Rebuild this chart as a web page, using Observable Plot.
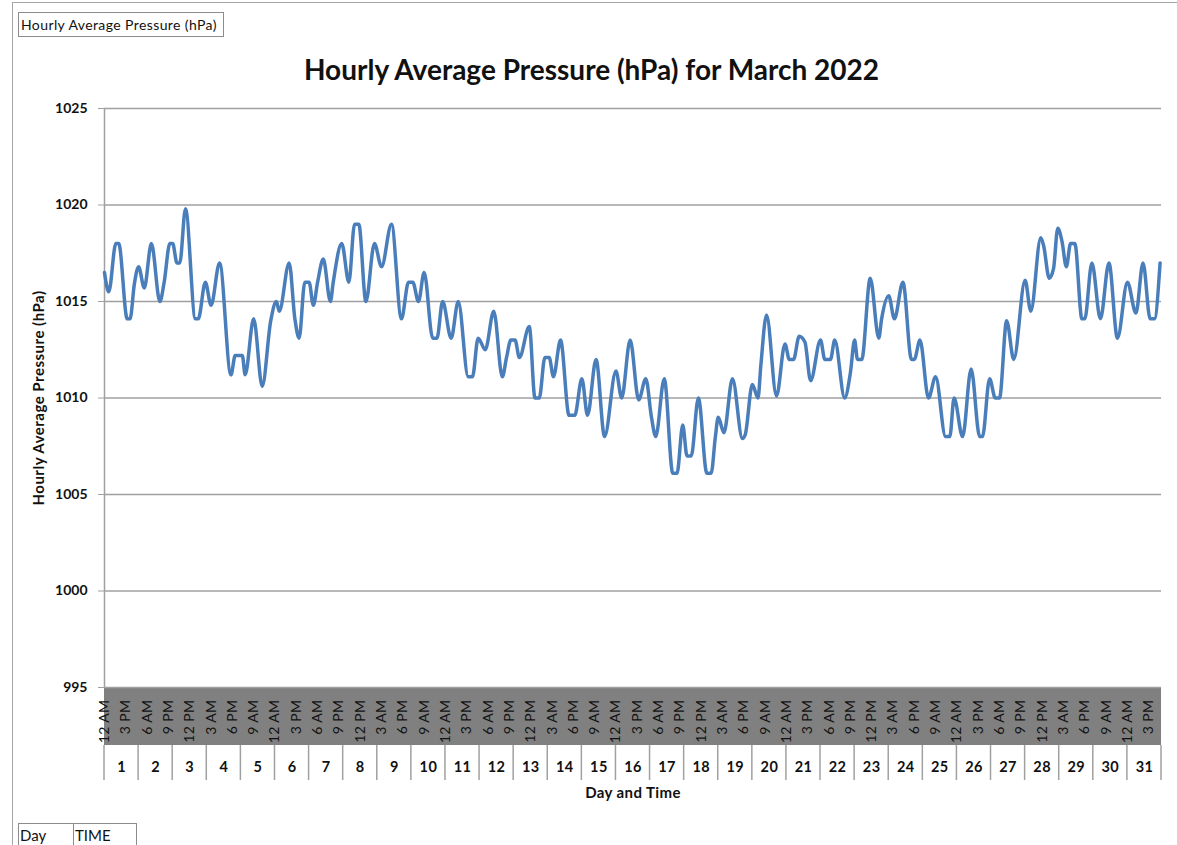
<!DOCTYPE html>
<html>
<head>
<meta charset="utf-8">
<script src="https://cdn.jsdelivr.net/npm/d3@7"></script>
<script src="https://cdn.jsdelivr.net/npm/@observablehq/plot@0.6"></script>
<style>
  body { margin: 0; background: #fff; }
  #wrap { position: relative; width: 1177px; height: 845px; overflow: hidden; background: #fff; font-family: Lato, "Open Sans", sans-serif; color: #111; }
  .abs { position: absolute; }
</style>
</head>
<body>
<div id="wrap">
  <div class="abs" style="left:12px;top:2px;width:1200px;height:900px;border:1px solid #a6a6a6;"></div>
  <div class="abs" style="left:18px;top:12px;width:202px;height:23px;border:1px solid #8c8c8c;font-size:14px;letter-spacing:0.4px;line-height:23px;padding-left:2px;white-space:nowrap;">Hourly Average Pressure (hPa)</div>
  <div id="chart" class="abs" style="left:0;top:0;"></div>
  <div class="abs" style="left:0;width:1183px;top:50px;text-align:center;font-size:28px;font-weight:700;line-height:38px;">Hourly Average Pressure (hPa) for March 2022</div>
  <div class="abs" style="left:38px;top:398px;width:300px;margin-left:-150px;text-align:center;font-size:15px;letter-spacing:0.5px;font-weight:700;line-height:18px;transform:translateY(-9px) rotate(-90deg);white-space:nowrap;">Hourly Average Pressure (hPa)</div>
  <div class="abs" style="left:483px;width:300px;top:783px;text-align:center;font-size:15px;letter-spacing:0.4px;font-weight:700;line-height:18px;">Day and Time</div>
  <div class="abs" style="left:18px;top:823px;width:117px;height:40px;border:1px solid #8c8c8c;"></div>
  <div class="abs" style="left:73px;top:823px;width:1px;height:40px;background:#8c8c8c;"></div>
  <div class="abs" style="left:20px;top:826px;font-size:15px;line-height:18px;">Day</div>
  <div class="abs" style="left:75px;top:826px;font-size:15px;line-height:18px;">TIME</div>
</div>
<script>
// Hour index within March 2022 (0 = 1 March 12 AM) and pressure read at the turning points of the curve
const hours = [0,3,8,10,16,18,21,24,28,33,39,42,46,48,51,53,57,64,66,71,75,81,89,92,97,99,105,111,117,121,123,
  130,134,137,141,144,147,150,154,159,161,167,172,176,179,184,190,195,202,209,214,217,221,225,231,234,238,244,
  249,256,259,263,268,274,280,283,286,289,292,299,303,306,310,313,316,321,327,331,336,340,346,352,360,364,
  370,376,381,385,388,394,400,403,407,410,413,418,424,427,430,432,436,442,449,451,456,460,462,466,473,479,
  482,485,489,493,497,504,507,511,514,521,525,528,530,533,539,545,547,552,556,562,568,570,574,580,585,592,
  595,598,604,610,616,618,623,627,630,635,640,648,652,659,661,665,668,671,674,677,680,683,688,690,695,701,
  707,713,720,726,731,736,739,743];
const pressure = [1016.5,1015.5,1018.0,1018.0,1014.1,1014.1,1015.9,1016.8,1015.7,1018.0,1015.0,1016.0,1018.0,1018.0,1017.0,1017.0,1019.8,1014.1,1014.1,1016.0,1014.8,1017.0,1011.2,1012.2,1012.2,1011.2,1014.1,1010.6,1014.0,1015.0,1014.5,
  1017.0,1014.1,1013.1,1016.0,1016.0,1014.8,1016.0,1017.2,1015.0,1016.0,1018.0,1016.0,1019.0,1019.0,1015.0,1018.0,1016.8,1019.0,1014.1,1016.0,1016.0,1015.0,1016.5,1013.1,1013.1,1015.0,1013.1,
  1015.0,1011.1,1011.1,1013.1,1012.5,1014.5,1011.1,1012.1,1013.0,1013.0,1012.1,1013.7,1010.0,1010.0,1012.1,1012.1,1011.1,1013.0,1009.1,1009.1,1011.0,1009.1,1012.0,1008.0,1011.4,1010.0,
  1013.0,1009.9,1011.0,1009.0,1008.0,1011.0,1006.1,1006.1,1008.6,1007.0,1007.0,1010.0,1006.1,1006.1,1008.0,1009.0,1008.2,1011.0,1007.9,1008.1,1010.7,1010.0,1011.7,1014.3,1010.1,1012.8,
  1012.0,1012.0,1013.2,1012.9,1010.9,1013.0,1012.0,1012.0,1013.0,1010.0,1011.3,1013.0,1012.0,1012.0,1016.2,1013.1,1014.1,1015.3,1014.1,1016.0,1012.0,1012.0,1013.0,1010.0,1011.1,1008.0,
  1008.0,1010.0,1008.0,1011.5,1008.0,1008.0,1011.0,1010.0,1010.0,1014.0,1012.0,1016.1,1014.5,1018.3,1017.9,1016.2,1016.7,1018.8,1018.1,1016.8,1018.0,1018.0,1014.1,1014.1,1017.0,1014.1,
  1017.0,1013.1,1016.0,1014.4,1017.0,1014.1,1014.1,1017.0];
const yTicks = [995, 1000, 1005, 1010, 1015, 1020, 1025];
const days = d3.range(1, 32);
const labelHours = d3.range(0, 744, 15);
const hoursInMonth = 744;

const data = hours.map((h, i) => ({hour: h, hPa: pressure[i]}));
const timeLabel = h => {
  const hr = h % 24;
  const h12 = hr % 12 === 0 ? 12 : hr % 12;
  return `${h12} ${hr < 12 ? "AM" : "PM"}`;
};

const plot = Plot.plot({
  width: 1177,
  height: 845,
  marginLeft: 104,
  marginRight: 16,
  marginTop: 108,
  marginBottom: 158,
  style: {background: "transparent", fontFamily: "Lato, 'Open Sans', sans-serif", overflow: "visible", color: "#111"},
  x: {domain: [0, hoursInMonth], label: null},
  y: {domain: [995, 1025], label: null},
  marks: [
    Plot.gridY(yTicks.filter(d => d > 995), {stroke: "#a0a0a0", strokeOpacity: 1, strokeWidth: 1.5}),
    Plot.ruleY([995], {stroke: "#a0a0a0", strokeWidth: 1.5}),
    Plot.ruleX([0], {stroke: "#a0a0a0", strokeWidth: 1.5}),
    Plot.axisY(yTicks, {tickSize: 6, tickPadding: 11, stroke: "#a0a0a0", fill: "#111", fontSize: 14, fontWeight: 700, tickFormat: d => `${d}`}),
    Plot.axisX(labelHours, {tickSize: 0, tickPadding: 12, tickRotate: -90, tickFormat: timeLabel, fontSize: 14, letterSpacing: 0.4, fill: "#111"}),
    Plot.axisX(days.map(d => (d - 1) * 24 + 12), {tickSize: 0, tickPadding: 74, tickFormat: h => `${Math.floor(h / 24) + 1}`, fontSize: 14.5, fontWeight: 700, fill: "#111"}),
    Plot.line(data, {x: "hour", y: "hPa", curve: "monotone-x", stroke: "#4a7ebb", strokeWidth: 3.5, strokeLinejoin: "round"})
  ]
});
document.getElementById("chart").appendChild(plot);

// category band and day separators, placed through the plot's own scales
const xs = plot.scale("x"), ys = plot.scale("y");
const svg = d3.select(plot);
const x0 = xs.apply(0), x1 = xs.apply(hoursInMonth), yb = ys.apply(995);
svg.insert("rect", ":first-child")
  .attr("x", x0).attr("y", yb).attr("width", x1 - x0).attr("height", 58)
  .attr("fill", "#808080");
svg.selectAll("g[aria-label='x-axis tick label'] text").style("letter-spacing", "0.4px");
svg.append("g").selectAll("line")
  .data(d3.range(0, 32).map(i => i * 24))
  .join("line")
  .attr("x1", d => xs.apply(d)).attr("x2", d => xs.apply(d))
  .attr("y1", yb + 58).attr("y2", yb + 93)
  .attr("stroke", "#a0a0a0").attr("stroke-width", 1.5);
</script>
</body>
</html>
